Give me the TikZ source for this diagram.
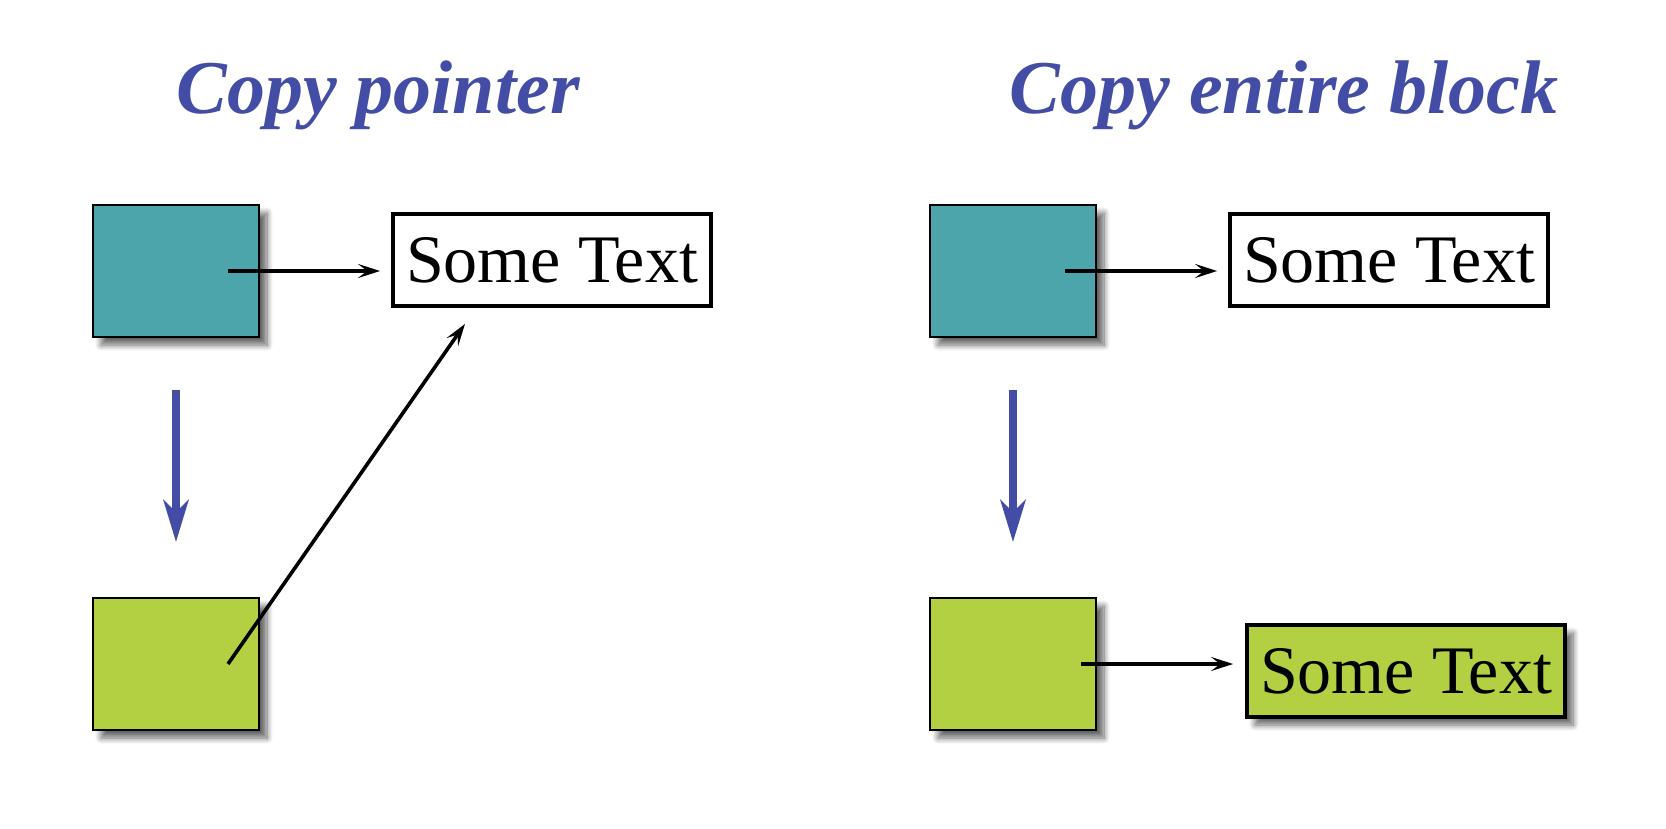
\documentclass[tikz,border=0pt]{standalone}
\usepackage{fontspec}
\setmainfont{Liberation Serif}
\usetikzlibrary{arrows.meta,shadows.blur}
\definecolor{titleblue}{HTML}{434DA6}
\definecolor{tealfill}{HTML}{4BA5AA}
\definecolor{limefill}{HTML}{B3D043}
\tikzset{
  softshadow/.style={blur shadow={shadow xshift=8pt,shadow yshift=-8pt,shadow opacity=60,shadow blur radius=6pt,shadow blur steps=10}},
  block/.style={draw=black,line width=1.8pt,inner sep=0pt,minimum width=166pt,minimum height=132pt,softshadow},
  tealblock/.style={block,fill=tealfill},
  limeblock/.style={block,fill=limefill},
  textbox/.style={draw=black,line width=3.8pt,inner sep=0pt,minimum width=318pt,minimum height=92pt,font=\fontsize{68}{68}\selectfont},
  heading/.style={anchor=base,text=titleblue,font=\fontsize{76}{76}\selectfont\bfseries\itshape},
  ptr/.style={line width=3.6pt,-{Stealth[length=22pt,width=14pt,inset=9pt]}},
  copyarrow/.style={draw=titleblue,line width=8pt,-{Stealth[length=42pt,width=25pt,inset=12pt]}},
}
\begin{document}
\begin{tikzpicture}[x=1pt,y=-1pt]
\useasboundingbox (0,0) rectangle (1666,828);

% left panel: only the pointer is copied
\node[heading] (h1) at (378,113) {Copy pointer};
\node[tealblock] (pa) at (176,271) {};
\node[limeblock] (pb) at (176,664) {};
\node[textbox,fill=white] (ta) at (552,260) {Some Text};
\draw[ptr] ([xshift=52pt]pa.center) coordinate (s1) -- ([xshift=-11pt]s1 -| ta.west);
\draw[ptr] ([xshift=52pt]pb.center) -- ([shift={(-87pt,-16pt)}]ta.south);
\draw[copyarrow] ([yshift=-52pt]pa.south) -- ([yshift=55pt]pb.north);

% right panel: the whole block is duplicated
\node[heading] (h2) at (1284,113) {Copy entire block};
\node[tealblock] (qa) at (1013,271) {};
\node[limeblock] (qb) at (1013,664) {};
\node[textbox,fill=white] (tb) at (1389,260) {Some Text};
\node[textbox,fill=limefill,softshadow] (tc) at (1406,671) {Some Text};
\draw[ptr] ([xshift=52pt]qa.center) coordinate (s2) -- ([xshift=-11pt]s2 -| tb.west);
\draw[ptr] ([xshift=68pt]qb.center) coordinate (s3) -- ([xshift=-12pt]s3 -| tc.west);
\draw[copyarrow] ([yshift=-52pt]qa.south) -- ([yshift=55pt]qb.north);
\end{tikzpicture}
\end{document}
